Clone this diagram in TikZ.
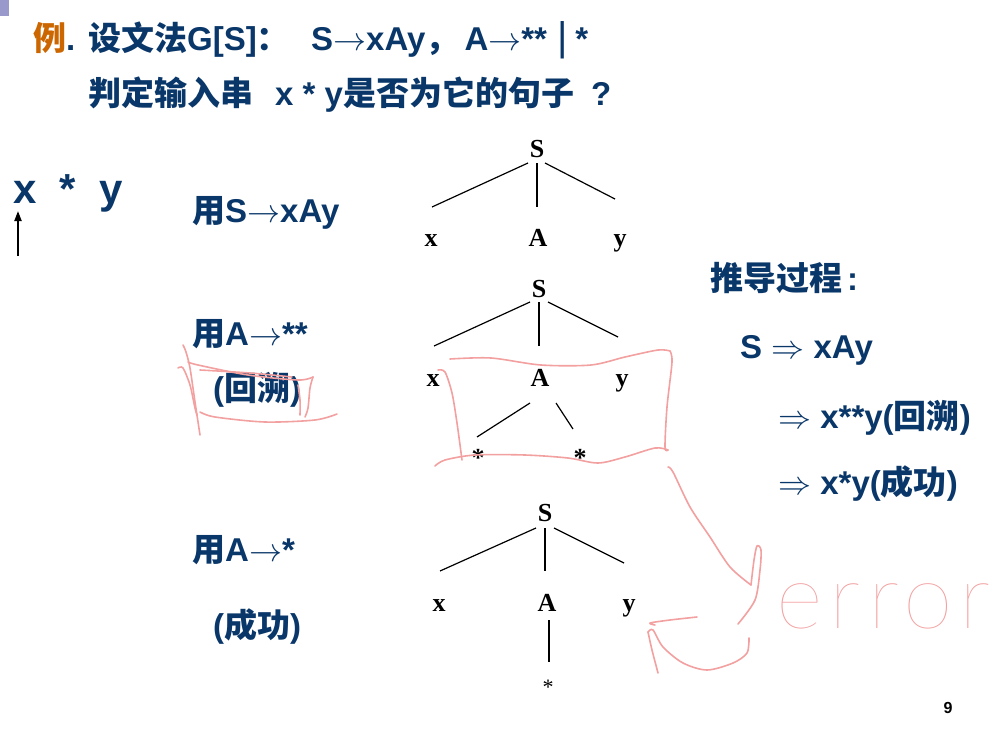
\RequirePackage{fix-cm}
\documentclass[tikz,border=0pt]{standalone}
\usepackage{fontspec}
\setmainfont{Liberation Sans}
\newfontfamily\cjk{Noto Sans CJK SC}
\newfontfamily\treefont{Liberation Serif}
\IfFontExistsTF{Lato Hairline}{\newfontfamily\hand{Lato Hairline}[LetterSpace=8]}{\IfFontExistsTF{Lato Light}{\newfontfamily\hand{Lato Light}[LetterSpace=8]}{\newfontfamily\hand{DejaVu Sans}}}
\usetikzlibrary{arrows.meta}
\definecolor{navy}{RGB}{10,55,105}
\definecolor{exorange}{RGB}{204,102,0}
\definecolor{lavender}{RGB}{153,153,204}
\definecolor{inkpink}{RGB}{242,160,160}
\newcommand\myto{$\rightarrow$}
\newcommand\myTo{$\Rightarrow$}
\tikzset{
  lbl/.style={text=navy, font=\fontsize{33}{33}\selectfont\bfseries, inner sep=0pt, anchor=base west},
  sym/.style={text=black, font=\fontsize{26}{26}\selectfont\treefont\bfseries, inner sep=0pt, anchor=base},
  edge/.style={draw=black, line width=1.2pt},
  ink/.style={draw=inkpink, line width=1.6pt, line cap=round, line join=round},
}
\begin{document}
\begin{tikzpicture}[x=1pt,y=-1pt]
\useasboundingbox (0,0) rectangle (1004,736);
\fill[lavender] (0,0) rectangle (9,16);

% title
\node[lbl] (t1a) at (33,50) {{\cjk\color{exorange}例}.};
\node[lbl] (t1b) at (88,50) {{\cjk 设文法}G[S]{\cjk ：}};
\node[lbl] (t1c) at (311,50) {S\myto{}xAy{\cjk ，}\hspace{6pt}A\myto{}**\hspace{10pt}{\mdseries\fontsize{40}{40}\selectfont|}\hspace{8pt}*};
\node[lbl] (t2) at (88,105) {{\cjk 判定输入串}\hspace{22pt}x * y{\cjk 是否为它的句子}\hspace{17pt}?};

% input string and pointer
\node[lbl, font=\fontsize{42}{42}\selectfont\bfseries] (inp) at (13,203) {x\ \ *\ \ y};
\coordinate (ptrbot) at (18,256);
\coordinate (ptrtop) at (18,211);
\draw[line width=2pt, -{Triangle[length=10pt,width=7pt]}] (ptrbot) -- (ptrtop);

% left labels
\node[lbl] (l1) at (192,222) {{\cjk 用}S\myto{}xAy};
\node[lbl] (l2) at (192,345) {{\cjk 用}A\myto{}**};
\node[lbl] (l3) at (213,400) {({\cjk 回溯})};
\node[lbl] (l4) at (192,561) {{\cjk 用}A\myto{}*};
\node[lbl] (l5) at (213,637) {({\cjk 成功})};

% right derivation
\node[lbl] (d0) at (710,290) {{\cjk 推导过程}\hspace{5pt}:};
\node[lbl] (d1) at (740,358) {S \myTo{} xAy};
\node[lbl] (d2) at (778,428) {\myTo{} x**y({\cjk 回溯})};
\node[lbl] (d3) at (778,494) {\myTo{} x*y({\cjk 成功})};

% tree 1
\node[sym] (S1) at (537,157) {S};
\node[sym] (x1) at (431,246) {x};
\node[sym] (A1) at (538,246) {A};
\node[sym] (y1) at (620,246) {y};
\draw[edge] ([shift={(-9,6)}]S1.base) -- ([shift={(1,-39)}]x1.base);
\draw[edge] ([shift={(0,6)}]S1.base) -- ([shift={(-1,-39)}]A1.base);
\draw[edge] ([shift={(8,6)}]S1.base) -- ([shift={(-5,-47)}]y1.base);

% tree 2
\node[sym] (S2) at (539,297) {S};
\node[sym] (x2) at (433,386) {x};
\node[sym] (A2) at (540,386) {A};
\node[sym] (y2) at (622,386) {y};
\node[sym] (s21) at (478,466) {*};
\node[sym] (s22) at (580,466) {*};
\draw[edge] ([shift={(-9,5)}]S2.base) -- ([shift={(1,-40)}]x2.base);
\draw[edge] ([shift={(0,5)}]S2.base) -- ([shift={(-1,-40)}]A2.base);
\draw[edge] ([shift={(9,5)}]S2.base) -- ([shift={(-4,-49)}]y2.base);
\draw[edge] ([shift={(-10,17)}]A2.base) -- ([shift={(-1,-29)}]s21.base);
\draw[edge] ([shift={(16,17)}]A2.base) -- ([shift={(-7,-37)}]s22.base);

% tree 3
\node[sym] (S3) at (545,521) {S};
\node[sym] (x3) at (439,611) {x};
\node[sym] (A3) at (547,611) {A};
\node[sym] (y3) at (629,611) {y};
\node[sym, font=\fontsize{22}{22}\selectfont\treefont] (s3) at (548,694) {*};
\draw[edge] ([shift={(-9,7)}]S3.base) -- ([shift={(1,-40)}]x3.base);
\draw[edge] ([shift={(0,7)}]S3.base) -- ([shift={(-2,-40)}]A3.base);
\draw[edge] ([shift={(9,7)}]S3.base) -- ([shift={(-5,-48)}]y3.base);
\draw[edge] ([shift={(2,9)}]A3.base) -- ([shift={(1,-32)}]s3.base);

% page number
\node[font=\fontsize{16}{16}\selectfont\bfseries, inner sep=0pt] (pg) at (948,708) {9};

% handwritten annotations
\draw[ink] plot[smooth] coordinates {(183,345) (186,352) (190,368) (195,402) (200,435)};
\draw[ink] plot[smooth] coordinates {(178,368) (183,368) (190,385) (195,408) (197,415)};
\draw[ink] plot[smooth] coordinates {(188,362) (198,365) (248,375) (298,380) (313,377)};
\draw[ink] plot[smooth] coordinates {(313,377) (310,388) (308,408) (305,417)};
\draw[ink] plot[smooth] coordinates {(200,370) (250,373) (292,377)};
\draw[ink] plot[smooth] coordinates {(298,385) (300,400) (300,415)};
\draw[ink] plot[smooth] coordinates {(200,412) (215,417) (265,422) (315,420) (337,414)};

\draw[ink] plot[smooth] coordinates {(450,359) (491,358) (541,365) (591,365) (625,357) (658,350) (670,351)};
\draw[ink] plot[smooth] coordinates {(670,351) (672,362) (667,407) (665,447) (668,450)};
\draw[ink] plot[smooth] coordinates {(435,466) (445,460) (475,455) (525,455) (568,458) (598,463) (625,457) (655,448) (668,450)};
\draw[ink] plot[smooth] coordinates {(438,370) (445,372) (452,393) (457,423) (462,460)};

\draw[ink] plot[smooth] coordinates {(668,467) (673,472) (690,507) (710,537) (730,567) (751,585)};
\draw[ink] plot[smooth] coordinates {(751,585) (754,560) (757,546) (761,550) (760,570) (755,600) (738,624)};
\draw[ink] plot[smooth] coordinates {(697,617) (670,620) (650,623) (655,625)};
\draw[ink] plot[smooth] coordinates {(648,632) (653,630) (663,647) (683,663) (707,670) (733,663) (747,653) (749,638)};
\draw[ink] plot[smooth] coordinates {(648,632) (652,650) (658,673)};

\node[text=inkpink, font=\fontsize{90}{90}\selectfont\hand, inner sep=0pt, anchor=base west] (err) at (776,628) {error};
\end{tikzpicture}
\end{document}
